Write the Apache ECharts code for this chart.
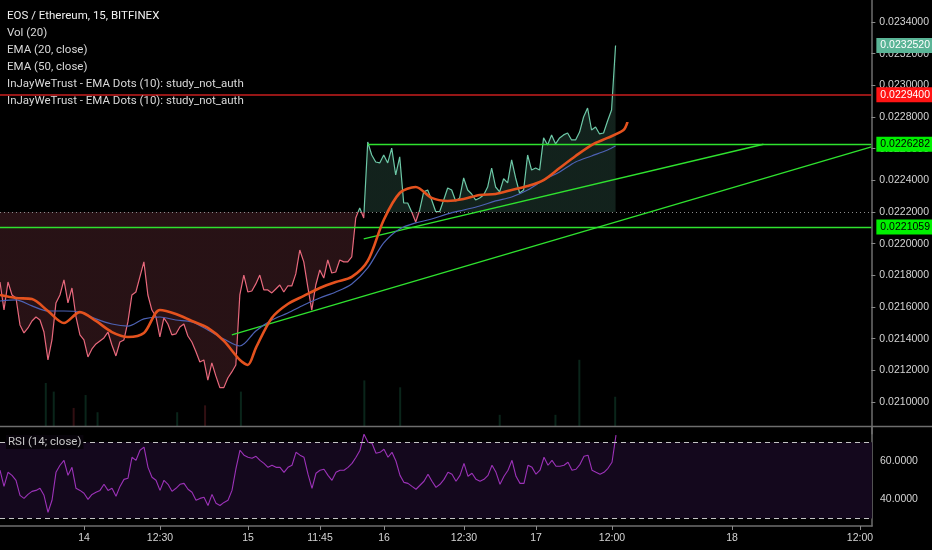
<!DOCTYPE html>
<html><head><meta charset="utf-8">
<script src="https://cdn.jsdelivr.net/npm/echarts@6/dist/echarts.min.js"></script>
<style>html,body{margin:0;padding:0;background:#000;}#c{width:932px;height:550px;}</style>
</head><body><div id="c"></div>
<script>
// ---------- data ----------
const NSLOT = 219; // 15-min slots shown on the time axis (incl. empty future area)
const tickIdx = [21, 40, 62, 80, 96, 116, 134, 153, 183, 215];
const tickLabels = ['14', '12:30', '15', '11:45', '16', '12:30', '17', '12:00', '18', '12:00'];

const price = [
  0.021758, 0.021581, 0.021758, 0.021676, 0.021657, 0.021487, 0.021436, 0.021468, 0.021512, 0.021537,
  0.021518, 0.021442, 0.021266, 0.021392, 0.021626, 0.021676, 0.021771, 0.021626, 0.021720, 0.021540,
  0.021424, 0.021392, 0.021285, 0.021335, 0.021367, 0.021386, 0.021405, 0.021442, 0.021360, 0.021291,
  0.021379, 0.021392, 0.021506, 0.021676, 0.021695, 0.021790, 0.021885, 0.021676, 0.021581, 0.021540,
  0.021411, 0.021531, 0.021493, 0.021424, 0.021430, 0.021474, 0.021493, 0.021417, 0.021379, 0.021319,
  0.021253, 0.021266, 0.021139, 0.021247, 0.021165, 0.021091, 0.021091, 0.021152, 0.021190, 0.021234,
  0.021676, 0.021802, 0.021695, 0.021701, 0.021746, 0.021802, 0.021708, 0.021708, 0.021689, 0.021714,
  0.021739, 0.021695, 0.021733, 0.021733, 0.021809, 0.021960, 0.021885, 0.021727, 0.021581, 0.021739,
  0.021834, 0.021783, 0.021897, 0.021815, 0.021821, 0.021897, 0.021885, 0.021885, 0.021916, 0.022162,
  0.022226, 0.022162, 0.022642, 0.022560, 0.022516, 0.022510, 0.022560, 0.022510, 0.022604, 0.022434,
  0.022548, 0.022257, 0.022257, 0.022200, 0.022137, 0.022213, 0.022327, 0.022339, 0.022276, 0.022203,
  0.022203, 0.022276, 0.022352, 0.022339, 0.022270, 0.022289, 0.022415, 0.022339, 0.022314, 0.022276,
  0.022289, 0.022308, 0.022358, 0.022478, 0.022358, 0.022327, 0.022410, 0.022384, 0.022529, 0.022415,
  0.022320, 0.022339, 0.022560, 0.022465, 0.022478, 0.022465, 0.022668, 0.022623, 0.022687, 0.022630,
  0.022668, 0.022687, 0.022699, 0.022655, 0.022655, 0.022705, 0.022800, 0.022857, 0.022718, 0.022737,
  0.022693, 0.022699, 0.022775, 0.022844, 0.023252
];

const ema20Idx = [0, 4, 8, 12, 16, 20, 24, 28, 32, 36, 40, 44, 48, 52, 56, 60, 62, 64, 68, 72, 76, 80, 84, 88, 92, 96,
  100, 104, 108, 112, 116, 120, 124, 128, 132, 136, 140, 144, 148, 152, 156, 157];
const ema20 = [0.021676, 0.021657, 0.021650, 0.021575, 0.021499, 0.021568, 0.021512, 0.021442, 0.021411, 0.021436,
  0.021581, 0.021556, 0.021512, 0.021468, 0.021386, 0.021266, 0.021234, 0.021341, 0.021531, 0.021619,
  0.021670, 0.021720, 0.021758, 0.021790, 0.021891, 0.022150, 0.022320, 0.022358, 0.022289, 0.022270,
  0.022282, 0.022308, 0.022314, 0.022339, 0.022364, 0.022402, 0.022478, 0.022554, 0.022623, 0.022668,
  0.022718, 0.022769];

const ema50Idx = [0, 4, 8, 12, 16, 20, 24, 28, 32, 36, 40, 44, 48, 52, 56, 60, 64, 68, 72, 76, 80, 84, 88, 92, 96,
  100, 104, 108, 112, 116, 120, 124, 128, 132, 136, 140, 144, 148, 152, 154];
const ema50 = [0.021638, 0.021645, 0.021607, 0.021575, 0.021575, 0.021568, 0.021525, 0.021493, 0.021480, 0.021525,
  0.021537, 0.021518, 0.021506, 0.021455, 0.021398, 0.021354, 0.021449, 0.021518, 0.021562, 0.021613,
  0.021657, 0.021695, 0.021746, 0.021847, 0.022005, 0.022093, 0.022131, 0.022156, 0.022188, 0.022213,
  0.022238, 0.022270, 0.022295, 0.022339, 0.022402, 0.022453, 0.022516, 0.022554, 0.022592, 0.022617];

const rsi = [
  55.3, 46.8, 54.2, 52.6, 50.0, 42.1, 40.5, 42.6, 44.2, 44.7,
  45.8, 42.1, 33.2, 39.5, 54.2, 57.9, 60.5, 52.6, 56.8, 45.8,
  44.7, 43.2, 40.0, 42.6, 43.7, 44.7, 47.9, 44.7, 45.8, 41.6,
  46.8, 50.5, 51.1, 62.1, 60.5, 65.8, 67.4, 56.8, 51.6, 50.0,
  44.7, 50.0, 47.9, 44.2, 45.8, 47.9, 48.4, 45.3, 43.7, 39.5,
  40.5, 41.1, 36.8, 42.6, 37.9, 36.8, 38.4, 39.5, 44.7, 56.3,
  65.8, 63.2, 62.1, 61.6, 62.6, 60.5, 58.9, 56.8, 57.9, 56.8,
  56.8, 54.2, 56.8, 57.9, 64.7, 63.2, 62.1, 53.2, 45.8, 53.7,
  55.3, 55.8, 52.6, 50.0, 54.2, 55.3, 55.3, 56.8, 58.9, 62.1,
  65.8, 74.2, 70.0, 69.5, 64.2, 64.7, 66.3, 62.1, 64.7, 60.0,
  52.6, 48.9, 48.4, 46.8, 45.3, 47.4, 49.5, 53.2, 49.5, 46.3,
  47.9, 50.5, 54.2, 53.2, 49.5, 52.6, 58.9, 52.1, 53.7, 50.5,
  49.5, 50.5, 52.6, 57.9, 54.2, 47.9, 52.1, 55.3, 60.5, 52.1,
  48.4, 48.4, 57.9, 56.8, 53.2, 55.3, 62.1, 57.9, 60.5, 57.4,
  57.4, 57.9, 59.5, 55.3, 55.8, 58.4, 62.6, 63.2, 55.3, 54.2,
  53.2, 54.2, 56.3, 59.5, 73.7
];

const volIdx = [11, 13, 18, 21, 24, 44, 51, 60, 91, 100, 125, 139, 145, 154];
const vol = [50, 40, 21, 36, 16, 16, 24, 40, 53, 45, 13, 13, 77, 34];
const volUp = [1, 1, 0, 1, 1, 1, 0, 1, 1, 1, 1, 1, 1, 1];

const baseline = 0.0222;
const resistance = 0.02294;
const support = 0.0221059;
const rangeTop = 0.0226282;
const rangeTopStart = 92;
const lastPrice = 0.023252;
const trend1 = [[91, 0.022030], [191, 0.022628]];
const trend2 = [[58, 0.021424], [218, 0.022611]];
const rsiUpper = 70, rsiLower = 30;

const legendLines = ['EOS / Ethereum, 15, BITFINEX', 'Vol (20)', 'EMA (20, close)', 'EMA (50, close)',
  'InJayWeTrust - EMA Dots (10): study_not_auth', 'InJayWeTrust - EMA Dots (10): study_not_auth'];
const rsiTitle = 'RSI (14; close)';

// ---------- build ----------
const categories = [];
for (let i = 0; i < NSLOT; i++) categories.push('');
tickIdx.forEach((k, j) => { categories[k] = tickLabels[j]; });
const isTick = (i) => tickIdx.indexOf(i) >= 0;

const pairs = (idx, vals) => idx.map((k, j) => [k, vals[j]]);
const volData = [];
for (let i = 0; i < NSLOT; i++) volData.push('-');
volIdx.forEach((k, j) => {
  volData[k] = { value: vol[j], itemStyle: { color: volUp[j] ? 'rgba(45,170,120,0.22)' : 'rgba(225,70,80,0.22)' } };
});

const FONT = 'Liberation Sans';
const fmt7 = (v) => Number(v).toFixed(7);
const GREEN = '#2fe22f';

const chart = echarts.init(document.getElementById('c'), null, { renderer: 'canvas' });
const hLabel = (bg, fg) => ({ show: true, position: 'end', distance: 5, backgroundColor: bg, color: fg,
  padding: [2, 4, 2, 4], fontSize: 10.5, fontFamily: FONT, formatter: (p) => fmt7(p.value) });
const noLabel = { show: false };
// a segment between two [slot, value] points
const seg = (a, b, ls, lb, v) => [
  { coord: a, value: v, lineStyle: ls, label: lb },
  { coord: b, value: v, lineStyle: ls, label: lb }
];
// a full-width horizontal level
const level = (v, ls, lb) => seg([0, v], [NSLOT - 1, v], ls, lb, v);

const greenLS = { color: GREEN, type: 'solid', width: 1.3 };

chart.setOption({
  backgroundColor: '#000',
  animation: false,
  grid: [
    { left: 0, right: 60, top: 0, bottom: 116.3 },
    { left: 0, right: 60, top: 340, bottom: 124 },
    { left: 0, right: 60, top: 427, bottom: 24 }
  ],
  xAxis: [
    { type: 'category', gridIndex: 0, data: categories, boundaryGap: false, show: false },
    { type: 'category', gridIndex: 1, data: categories, boundaryGap: true, show: false },
    { type: 'category', gridIndex: 2, data: categories, boundaryGap: false,
      axisLine: { show: true, lineStyle: { color: '#6e6e6e', width: 1.5 } },
      axisTick: { show: true, interval: (i) => isTick(i), length: 4, lineStyle: { color: '#8a8a8a' } },
      axisLabel: { interval: (i) => isTick(i), color: '#d4d4d4', fontSize: 10.5, fontFamily: FONT, margin: 7 },
      splitLine: { show: false } }
  ],
  yAxis: [
    { type: 'value', gridIndex: 0, position: 'right', min: 0.0208, max: 0.023539, interval: 0.0002,
      axisLine: { show: true, lineStyle: { color: '#6e6e6e', width: 1.5 } },
      axisTick: { show: true, length: 4, lineStyle: { color: '#8a8a8a' } },
      axisLabel: { color: '#d4d4d4', fontSize: 10.5, fontFamily: FONT, margin: 8, showMinLabel: false, showMaxLabel: false,
        formatter: (v) => fmt7(v) },
      splitLine: { show: false } },
    { type: 'value', gridIndex: 1, min: 0, max: 100, show: false, splitLine: { show: false } },
    { type: 'value', gridIndex: 2, position: 'right', min: 26, max: 78, interval: 2,
      axisLine: { show: true, lineStyle: { color: '#6e6e6e', width: 1.5 } },
      axisTick: { show: false },
      axisLabel: { color: '#d4d4d4', fontSize: 10.5, fontFamily: FONT, margin: 8,
        formatter: (v) => (v === 40 || v === 60) ? v.toFixed(4) : '' },
      splitLine: { show: false } }
  ],
  visualMap: {
    show: false, type: 'piecewise', seriesIndex: 1, dimension: 1,
    pieces: [{ gt: baseline, lte: 0.025, color: '#6cc7a6' }, { gte: 0.019, lte: baseline, color: '#e8687c' }],
    outOfRange: { color: '#6cc7a6' }
  },
  graphic: [
    { type: 'line', shape: { x1: 0, y1: 426.5, x2: 932, y2: 426.5 }, style: { stroke: '#6e6e6e', lineWidth: 1.5 }, z: 50 },
    ...legendLines.map((t, j) => ({ type: 'text', left: 7, top: 10 + j * 17, z: 60,
      style: { text: t, fill: j === 0 ? '#f0f0f0' : '#d8d8d8', font: '11.5px Roboto' } })),
    { type: 'text', left: 6, top: 435, z: 60,
      style: { text: rsiTitle, fill: '#c8c8c8', font: '11.5px Roboto', backgroundColor: '#07030a', padding: [1, 2] } }
  ],
  series: [
    { name: 'Vol', type: 'bar', xAxisIndex: 1, yAxisIndex: 1, data: volData, barWidth: 2, z: 1, silent: true },
    { name: 'EOS/ETH', type: 'line', xAxisIndex: 0, yAxisIndex: 0, data: price, symbol: 'none', z: 4,
      lineStyle: { width: 1.2 },
      areaStyle: { origin: baseline, opacity: 0.17 },
      markLine: {
        silent: true, symbol: ['none', 'none'], animation: false,
        data: [
          level(baseline, { color: '#8c8c8c', type: [1, 3], width: 1 }, noLabel),
          level(support, greenLS, hLabel('#00f000', '#000')),
          level(resistance, { color: '#c81e1e', type: 'solid', width: 1.5 }, hLabel('#ff1414', '#fff')),
          level(lastPrice, { color: 'rgba(0,0,0,0)', type: 'solid', width: 0.01 }, hLabel('#5ab496', '#fff')),
          seg([rangeTopStart, rangeTop], [NSLOT - 1, rangeTop], greenLS, hLabel('#00f000', '#000'), rangeTop),
          seg(trend1[0], trend1[1], greenLS, noLabel),
          seg(trend2[0], trend2[1], greenLS, noLabel)
        ]
      } },
    { name: 'EMA (50, close)', type: 'line', xAxisIndex: 0, yAxisIndex: 0, data: pairs(ema50Idx, ema50), symbol: 'none',
      smooth: 0.3, z: 5, lineStyle: { color: '#4d62b4', width: 1.2 }, itemStyle: { color: '#4d62b4' } },
    { name: 'EMA (20, close)', type: 'line', xAxisIndex: 0, yAxisIndex: 0, data: pairs(ema20Idx, ema20), symbol: 'none',
      smooth: 0.3, z: 6, lineStyle: { color: '#e4521e', width: 2.6 }, itemStyle: { color: '#e4521e' } },
    { name: 'RSI', type: 'line', xAxisIndex: 2, yAxisIndex: 2, data: rsi, symbol: 'none', z: 4,
      lineStyle: { color: '#9c32b8', width: 1.1 }, itemStyle: { color: '#9c32b8' },
      markArea: { silent: true, itemStyle: { color: '#14081d' }, data: [[{ yAxis: rsiLower }, { yAxis: rsiUpper }]] },
      markLine: { silent: true, symbol: ['none', 'none'], label: { show: false },
        lineStyle: { color: '#c4c4c4', type: [5, 4], width: 1.2 },
        data: [{ yAxis: rsiUpper }, { yAxis: rsiLower }] } }
  ]
});
</script>
</body></html>
